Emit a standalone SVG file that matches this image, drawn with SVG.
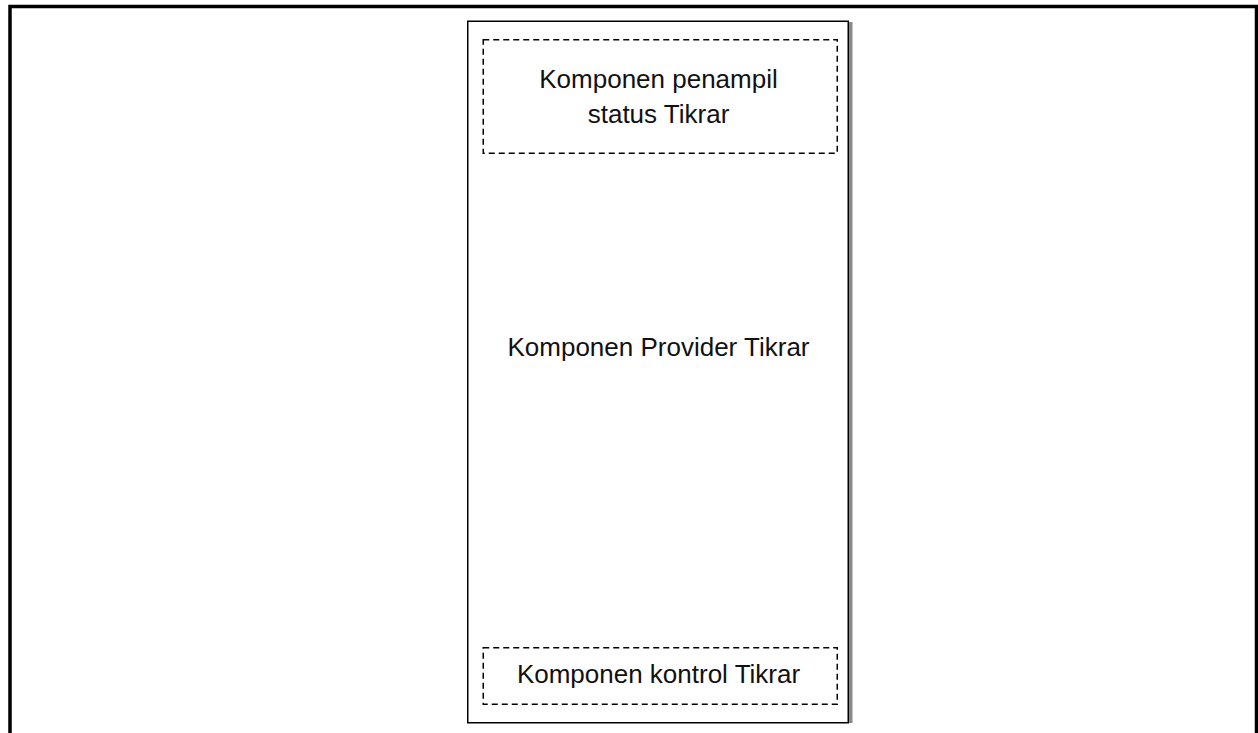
<svg xmlns="http://www.w3.org/2000/svg" width="1258" height="733" viewBox="0 0 1258 733">
  <style>
    .frame { fill: none; stroke: #000; stroke-width: 3.5; }
    .container { fill: #fff; stroke: #000; stroke-width: 1.5; }
    .dashed { fill: none; stroke: #000; stroke-width: 1.5; stroke-dasharray: 6 4; }
    .label { font-family: "Liberation Sans", Arial, sans-serif; font-size: 26px; fill: #111; text-anchor: middle; }
  </style>
  <rect width="1258" height="733" fill="#fff"/>
  <!-- outer frame, open at the bottom edge -->
  <path class="frame" d="M10,740 L10,6.5 L1256.5,6.5 L1256.5,740"/>

  <g id="provider">
    <rect x="849" y="22" width="3.5" height="701" fill="#8a8a8a"/>
    <rect class="container" x="467.75" y="21.25" width="380.5" height="701.5"/>
    <text class="label" x="658.5" y="356">Komponen Provider Tikrar</text>
  </g>

  <g id="status">
    <rect class="dashed" x="483.25" y="39.75" width="354" height="113.5"/>
    <text class="label" x="658.5" y="88">Komponen penampil</text>
    <text class="label" x="658.5" y="123">status Tikrar</text>
  </g>

  <g id="kontrol">
    <rect class="dashed" x="483.25" y="647.75" width="354" height="56.5"/>
    <text class="label" x="658.5" y="683">Komponen kontrol Tikrar</text>
  </g>

  <g id="connectors"></g>
</svg>
